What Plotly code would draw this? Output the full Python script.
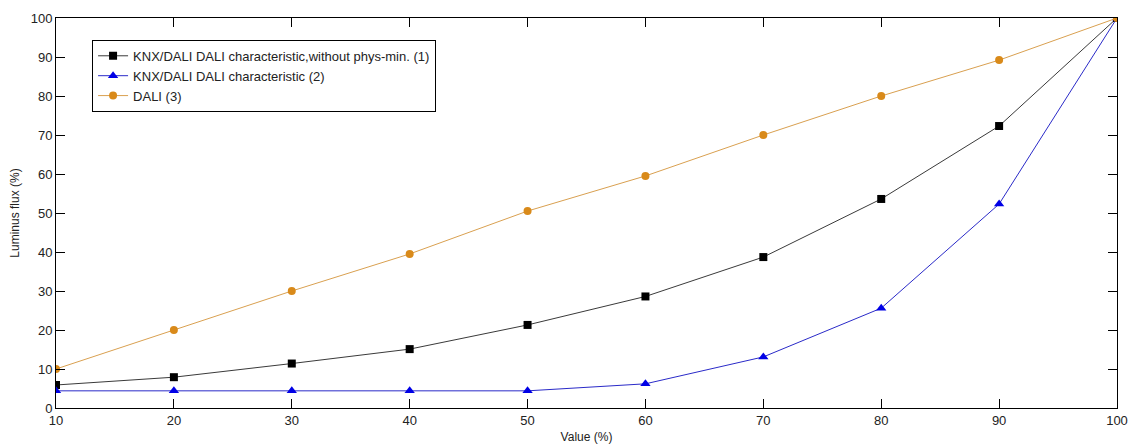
import plotly.graph_objects as go

# values
value = [10, 20, 30, 40, 50, 60, 70, 80, 90, 100]
knx_no_physmin = [5.9, 7.9, 11.4, 15.1, 21.3, 28.6, 38.7, 53.6, 72.3, 100]
knx_dali = [4.4, 4.4, 4.4, 4.4, 4.4, 6.2, 13.1, 25.6, 52.3, 100]
dali = [10, 20, 30, 39.5, 50.5, 59.5, 70, 80, 89.2, 100]

fig = go.Figure()

fig.add_trace(go.Scatter(x=value, y=knx_no_physmin, mode="lines+markers",
                         name="KNX/DALI DALI characteristic,without phys-min. (1)",
                         line=dict(color="#3a3a3a", width=1),
                         marker=dict(symbol="square", size=8, color="black")))
fig.add_trace(go.Scatter(x=value, y=knx_dali, mode="lines+markers",
                         name="KNX/DALI DALI characteristic (2)",
                         line=dict(color="#2a2ac8", width=1),
                         marker=dict(symbol="triangle-up", size=9, color="#0000e6")))
fig.add_trace(go.Scatter(x=value, y=dali, mode="lines+markers",
                         name="DALI (3)",
                         line=dict(color="#d9a050", width=1),
                         marker=dict(symbol="circle", size=8, color="#d98a1a")))

axis_style = dict(showgrid=False, zeroline=False, showline=True, linecolor="black",
                  linewidth=1, mirror="ticks", ticks="inside", ticklen=9,
                  tickcolor="black", tickfont=dict(size=13, color="#222"),
                  automargin=False)

fig.update_xaxes(range=[10, 100], tickvals=value,
                 title=dict(text="Value (%)", font=dict(size=12), standoff=6),
                 **axis_style)
fig.update_yaxes(range=[0, 100], tickvals=list(range(0, 101, 10)),
                 title=dict(text="Luminus flux (%)", font=dict(size=12), standoff=8),
                 **axis_style)

fig.update_layout(
    width=1128, height=444,
    margin=dict(l=56, r=11, t=18, b=36),
    paper_bgcolor="white", plot_bgcolor="white",
    font=dict(family="Liberation Sans, Arial, sans-serif", size=12, color="#222"),
    legend=dict(x=0.034, y=0.944, xanchor="left", yanchor="top",
                bordercolor="black", borderwidth=1, bgcolor="white",
                font=dict(size=13), tracegroupgap=0, itemwidth=30),
)

# drop the browser's default body margin so the figure sits at the page corner
fig.write_html("out.html", config={"displayModeBar": False},
               post_script="document.body.style.margin='0';")
